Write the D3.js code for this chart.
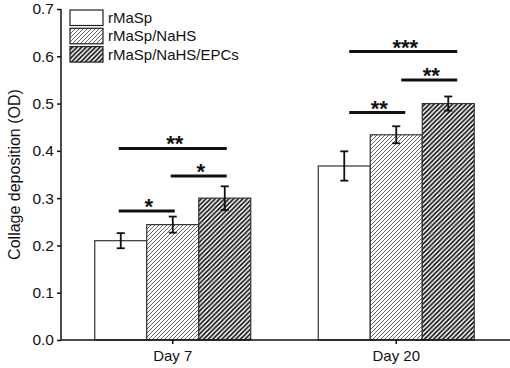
<!DOCTYPE html>
<html><head><meta charset="utf-8">
<script src="https://cdn.jsdelivr.net/npm/d3@7"></script>
<style>
html,body{margin:0;padding:0;background:#fff;}
svg{display:block;font-family:Arial,"Liberation Sans",Helvetica,sans-serif;}
</style></head>
<body><svg id="c" width="510" height="368"></svg>
<script>
const categories = ["Day 7", "Day 20"];
const seriesNames = ["rMaSp", "rMaSp/NaHS", "rMaSp/NaHS/EPCs"];
const meanValues = [
  [0.210, 0.244, 0.300],
  [0.368, 0.434, 0.500]
];
const errValues = [
  [0.016, 0.017, 0.025],
  [0.031, 0.018, 0.015]
];
const yTicks = [0.0, 0.1, 0.2, 0.3, 0.4, 0.5, 0.6, 0.7];
const yLabel = "Collage deposition (OD)";
// significance annotations: group index, from bar, to bar, y level, label
const sigGroup = [0, 0, 0, 1, 1, 1];
const sigFrom  = [0, 1, 0, 0, 1, 0];
const sigTo    = [2, 2, 1, 2, 2, 1];
const sigY     = [0.405, 0.347, 0.273, 0.610, 0.550, 0.481];
const sigLabel = ["**", "*", "*", "***", "**", "**"];

(function () {
const svg = d3.select("#c");
const W = 510;
const mLeft = 61, mTop = 9, mBottom = 340;

const defs = svg.append("defs");
function hatch(id, period, sw, col) {
  const p = defs.append("pattern").attr("id", id).attr("patternUnits", "userSpaceOnUse")
    .attr("width", period).attr("height", period);
  p.append("rect").attr("width", period).attr("height", period).attr("fill", "#fff");
  p.append("path")
    .attr("d", `M${-period/2},${period/2} L${period/2},${-period/2} M0,${period} L${period},0 M${period/2},${period*1.5} L${period*1.5},${period/2}`)
    .attr("stroke", col).attr("stroke-width", sw);
}
hatch("h1", 4, 0.7, "#222");
hatch("h2", 4.6, 1.7, "#111");
const fills = ["#fff", "url(#h1)", "url(#h2)"];

const x0 = d3.scaleBand().domain(categories).range([mLeft, 508]);
const x1 = d3.scaleBand().domain(d3.range(seriesNames.length)).range([-78, 78]);
const y = d3.scaleLinear().domain([0, 0.7]).range([mBottom, mTop]);

const g = svg.append("g");
categories.forEach((c, gi) => {
  const cx = x0(c) + x0.bandwidth() / 2;
  seriesNames.forEach((s, si) => {
    const v = meanValues[gi][si];
    g.append("rect")
      .attr("x", cx + x1(si)).attr("y", y(v))
      .attr("width", x1.bandwidth()).attr("height", y(0) - y(v))
      .attr("fill", fills[si]).attr("stroke", "#333").attr("stroke-width", 1.2);
  });
});
categories.forEach((c, gi) => {
  const cx = x0(c) + x0.bandwidth() / 2;
  seriesNames.forEach((s, si) => {
    const v = meanValues[gi][si], e = errValues[gi][si];
    const bx = cx + x1(si) + x1.bandwidth() / 2;
    const eg = g.append("g").attr("stroke", "#111").attr("stroke-width", 1.8);
    eg.append("line").attr("x1", bx).attr("x2", bx).attr("y1", y(v + e)).attr("y2", y(v - e));
    eg.append("line").attr("x1", bx - 4).attr("x2", bx + 4).attr("y1", y(v + e)).attr("y2", y(v + e));
    eg.append("line").attr("x1", bx - 4).attr("x2", bx + 4).attr("y1", y(v - e)).attr("y2", y(v - e));
  });
});

const yAxis = svg.append("g").attr("transform", `translate(${mLeft},0)`)
  .call(d3.axisLeft(y).tickValues(yTicks).tickFormat(d3.format(".1f")).tickSize(4).tickPadding(3));
yAxis.select(".domain").remove();
yAxis.selectAll(".tick line").attr("stroke", "#111").attr("stroke-width", 1.5);
yAxis.selectAll("text").attr("font-size", 15.5).attr("fill", "#111").attr("font-family", "Arial, 'Liberation Sans', sans-serif");
svg.append("line").attr("x1", mLeft).attr("x2", mLeft).attr("y1", mTop).attr("y2", mBottom)
  .attr("stroke", "#111").attr("stroke-width", 1.5);

const xAxis = svg.append("g").attr("transform", `translate(0,${mBottom})`)
  .call(d3.axisBottom(x0).tickSize(4).tickPadding(6));
xAxis.select(".domain").remove();
xAxis.selectAll(".tick line").attr("stroke", "#111").attr("stroke-width", 1.5);
xAxis.selectAll("text").attr("font-size", 15).attr("fill", "#111").attr("font-family", "Arial, 'Liberation Sans', sans-serif");
svg.append("line").attr("x1", mLeft).attr("x2", W).attr("y1", mBottom).attr("y2", mBottom)
  .attr("stroke", "#111").attr("stroke-width", 1.5);

svg.append("text").attr("transform", `translate(14,${(mTop + mBottom) / 2}) rotate(-90)`)
  .attr("text-anchor", "middle").attr("dominant-baseline", "central")
  .attr("font-size", 16).attr("fill", "#111").text(yLabel);

const nudge = [0, 7];
sigLabel.forEach((lab, i) => {
  const c = categories[sigGroup[i]];
  const cx = x0(c) + x0.bandwidth() / 2 + nudge[sigGroup[i]];
  const xa = cx + x1(sigFrom[i]) + x1.bandwidth() / 2 - 2;
  const xb = cx + x1(sigTo[i]) + x1.bandwidth() / 2 + 2;
  const yy = y(sigY[i]);
  svg.append("line").attr("x1", xa).attr("x2", xb).attr("y1", yy).attr("y2", yy)
    .attr("stroke", "#111").attr("stroke-width", 3);
  svg.append("text").attr("x", (xa + xb) / 2 + 2).attr("y", yy + 3)
    .attr("text-anchor", "middle").attr("font-size", 22).attr("font-weight", "bold")
    .attr("fill", "#111").text(lab);
});

const lg = svg.append("g");
seriesNames.forEach((s, i) => {
  const ly = 10 + i * 18.3;
  lg.append("rect").attr("x", 70).attr("y", ly).attr("width", 33).attr("height", 15.5)
    .attr("fill", fills[i]).attr("stroke", "#222").attr("stroke-width", 1.2);
  lg.append("text").attr("x", 108).attr("y", ly + 13).attr("font-size", 15).attr("fill", "#111").text(s);
});
})();
</script></body></html>
